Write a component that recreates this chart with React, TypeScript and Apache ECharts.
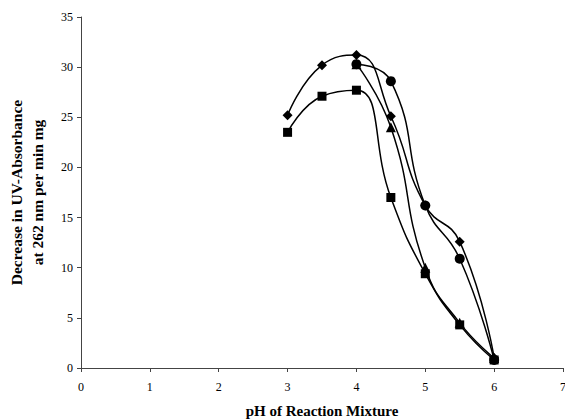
import React, { useEffect, useRef } from "react";
import * as echarts from "echarts";

const diamondX = [3, 3.5, 4, 4.5, 5, 5.5, 6];
const diamondY = [25.2, 30.2, 31.2, 25.1, 16.2, 12.6, 1.0];
const circleX = [4, 4.5, 5, 5.5, 6];
const circleY = [30.3, 28.6, 16.2, 10.9, 0.8];
const triangleX = [4, 4.5, 5, 5.5, 6];
const triangleY = [30.3, 24.0, 10.0, 4.5, 1.0];
const squareX = [3, 3.5, 4, 4.5, 5, 5.5, 6];
const squareY = [23.5, 27.1, 27.7, 17.0, 9.4, 4.3, 0.8];

const xTicks = [0, 7, 1];
const yTicks = [0, 35, 5];

const pair = (xs: number[], ys: number[]) => xs.map((x, i) => [x, ys[i]]);

const serif = "'Liberation Serif', 'DejaVu Serif', serif";

export default function App() {
  const ref = useRef<HTMLDivElement>(null);
  useEffect(() => {
    if (!ref.current) return;
    const chart = echarts.init(ref.current, null, { renderer: "svg" });
    const lineStyle = { color: "#000", width: 1.5 };
    const mk = (name: string, data: number[][], symbol: string, size: number) => ({
      name,
      type: "line",
      data,
      smooth: 0.5,
      symbol,
      symbolSize: size,
      showSymbol: true,
      itemStyle: { color: "#000" },
      lineStyle,
    });
    chart.setOption({
      animation: false,
      backgroundColor: "#fff",
      grid: { left: 81, right: 2, top: 17, bottom: 51, containLabel: false, outerBoundsMode: "none" },
      xAxis: {
        type: "value",
        min: xTicks[0],
        max: xTicks[1],
        interval: xTicks[2],
        name: "pH of Reaction Mixture",
        nameLocation: "middle",
        nameGap: 35,
        nameTextStyle: { fontFamily: serif, fontWeight: "bold", fontSize: 15, color: "#000" },
        axisLine: { lineStyle: { color: "#444", width: 1 } },
        axisTick: { show: true, inside: false, length: 4, lineStyle: { color: "#444" } },
        axisLabel: { fontFamily: serif, fontSize: 12, color: "#000", margin: 13 },
        splitLine: { show: false },
      },
      yAxis: {
        type: "value",
        min: yTicks[0],
        max: yTicks[1],
        interval: yTicks[2],
        name: "Decrease in UV-Absorbance\nat 262 nm per min mg",
        nameLocation: "middle",
        nameRotate: 90,
        nameGap: 33,
        nameTextStyle: { fontFamily: serif, fontWeight: "bold", fontSize: 15.5, color: "#000", lineHeight: 21 },
        axisLine: { show: true, lineStyle: { color: "#444", width: 1 } },
        axisTick: { show: true, inside: false, length: 4, lineStyle: { color: "#444" } },
        axisLabel: { fontFamily: serif, fontSize: 12, color: "#000", margin: 8 },
        splitLine: { show: false },
      },
      series: [
        mk("diamond", pair(diamondX, diamondY), "diamond", 10),
        mk("circle", pair(circleX, circleY), "circle", 10),
        mk("triangle", pair(triangleX, triangleY), "triangle", 10),
        mk("square", pair(squareX, squareY), "rect", 9),
      ],
    });
    return () => chart.dispose();
  }, []);
  return (
    <div
      ref={ref}
      style={{ position: "absolute", left: 0, top: 0, width: 565, height: 419, background: "#fff" }}
    />
  );
}
